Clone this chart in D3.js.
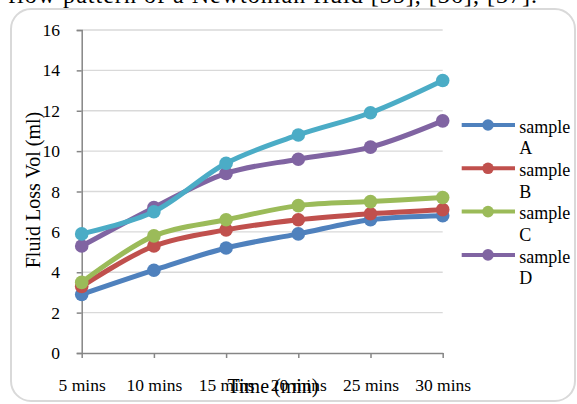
<!DOCTYPE html>
<html>
<head>
<meta charset="utf-8">
<script src="https://cdn.jsdelivr.net/npm/d3@7/dist/d3.min.js"></script>
<style>
  html, body { margin: 0; padding: 0; background: #fff; }
  svg { display: block; }
  text { font-family: "Liberation Serif", "Times New Roman", serif; fill: #000; }
</style>
</head>
<body>
<svg id="chart" width="577" height="404"></svg>
<script>
// Fluid loss volume over time for each sample
const categories = ["5 mins", "10 mins", "15 mins", "20 mins", "25 mins", "30 mins"];
const sampleA = [2.9, 4.1, 5.2, 5.9, 6.6, 6.8];
const sampleB = [3.3, 5.3, 6.1, 6.6, 6.9, 7.1];
const sampleC = [3.5, 5.8, 6.6, 7.3, 7.5, 7.7];
const sampleD = [5.3, 7.2, 8.9, 9.6, 10.2, 11.5];
const sampleE = [5.9, 7.0, 9.4, 10.8, 11.9, 13.5];
const yTicks = [0, 2, 4, 6, 8, 10, 12, 14, 16];
const seriesNames = ["sample A", "sample B", "sample C", "sample D", "sample E"];
const legendNames = ["sample A", "sample B", "sample C", "sample D"];

const colors = ["#4F81BD", "#C0504D", "#9BBB59", "#8064A2", "#4BACC6"];
const series = [sampleA, sampleB, sampleC, sampleD, sampleE].map((vals, i) => ({
  name: seriesNames[i], color: colors[i], values: vals
}));

const svg = d3.select("#chart");
const fontSize = 17.5;

// Caption line of the surrounding text, partly above the frame
svg.append("text")
  .attr("x", 8).attr("y", 2.7)
  .attr("font-size", 24)
  .attr("textLength", 529).attr("lengthAdjust", "spacing")
  .text("flow pattern of a Newtonian fluid [35], [36], [37].");

// Chart frame
svg.append("rect")
  .attr("x", 11).attr("y", 9)
  .attr("width", 564).attr("height", 392)
  .attr("rx", 20).attr("ry", 20)
  .attr("fill", "#fff")
  .attr("stroke", "#D9D9D9").attr("stroke-width", 2);

const x = d3.scalePoint().domain(categories).range([81.7, 442.7]);
const y = d3.scaleLinear().domain([0, 16]).range([353, 30]);

// Horizontal gridlines
svg.append("g")
  .selectAll("line")
  .data(yTicks.filter(d => d !== 0))
  .join("line")
  .attr("x1", x.range()[0]).attr("x2", x.range()[1])
  .attr("y1", d => y(d)).attr("y2", d => y(d))
  .attr("stroke", "#D9D9D9").attr("stroke-width", 1.3);

// Y axis
const yAxis = svg.append("g")
  .attr("transform", `translate(${x.range()[0]},0)`)
  .call(d3.axisLeft(y).tickValues(yTicks).tickSize(5).tickPadding(16.7).tickFormat(d3.format("d")));
yAxis.attr("font-family", null).attr("font-size", null);
yAxis.select(".domain").attr("stroke", "#868686").attr("stroke-width", 1.5);
yAxis.selectAll(".tick line").attr("stroke", "#868686").attr("stroke-width", 1.5);
yAxis.selectAll(".tick text")
  .attr("font-size", fontSize)
  .attr("fill", "#000");

// X axis
const xAxis = svg.append("g")
  .attr("transform", `translate(0,${y(0)})`)
  .call(d3.axisBottom(x).tickSize(5).tickSizeOuter(0));
xAxis.attr("font-family", null).attr("font-size", null);
xAxis.select(".domain").attr("stroke", "#868686").attr("stroke-width", 1.5);
xAxis.selectAll(".tick line").attr("stroke", "#868686").attr("stroke-width", 1.5);
xAxis.selectAll(".tick text")
  .attr("font-size", fontSize)
  .attr("fill", "#000")
  .attr("y", 37.5).attr("dy", null);

// Axis titles
svg.append("text")
  .attr("transform", `translate(40,190) rotate(-90)`)
  .attr("text-anchor", "middle")
  .attr("font-size", 20)
  .text("Fluid Loss Vol (ml)");

svg.append("text")
  .attr("x", 273).attr("y", 393)
  .attr("text-anchor", "middle")
  .attr("font-size", 20)
  .text("Time (min)");

// Series lines and markers
const line = d3.line()
  .x((d, i) => x(categories[i]))
  .y(d => y(d))
  .curve(d3.curveCatmullRom.alpha(0.5));

const plot = svg.append("g");
series.forEach(s => {
  const g = plot.append("g");
  g.append("path")
    .datum(s.values)
    .attr("d", line)
    .attr("fill", "none")
    .attr("stroke", s.color)
    .attr("stroke-width", 5)
    .attr("stroke-linejoin", "round")
    .attr("stroke-linecap", "round");
  g.selectAll("circle")
    .data(s.values)
    .join("circle")
    .attr("cx", (d, i) => x(categories[i]))
    .attr("cy", d => y(d))
    .attr("r", 6.8)
    .attr("fill", s.color);
});

// Legend
const legend = svg.append("g");
legendNames.forEach((name, i) => {
  const s = series.find(d => d.name === name);
  const ly = 125 + i * 43.3;
  const item = legend.append("g");
  item.append("line")
    .attr("x1", 461.7).attr("x2", 515)
    .attr("y1", ly).attr("y2", ly)
    .attr("stroke", s.color).attr("stroke-width", 4);
  item.append("circle")
    .attr("cx", 488).attr("cy", ly).attr("r", 5.8)
    .attr("fill", s.color);
  const parts = name.split(" ");
  const t = item.append("text")
    .attr("x", 519.3).attr("y", ly + 7.6)
    .attr("font-size", 18);
  t.append("tspan").attr("x", 519.3).text(parts[0]);
  t.append("tspan").attr("x", 519.3).attr("dy", 21.6).text(parts[1]);
});
</script>
</body>
</html>
